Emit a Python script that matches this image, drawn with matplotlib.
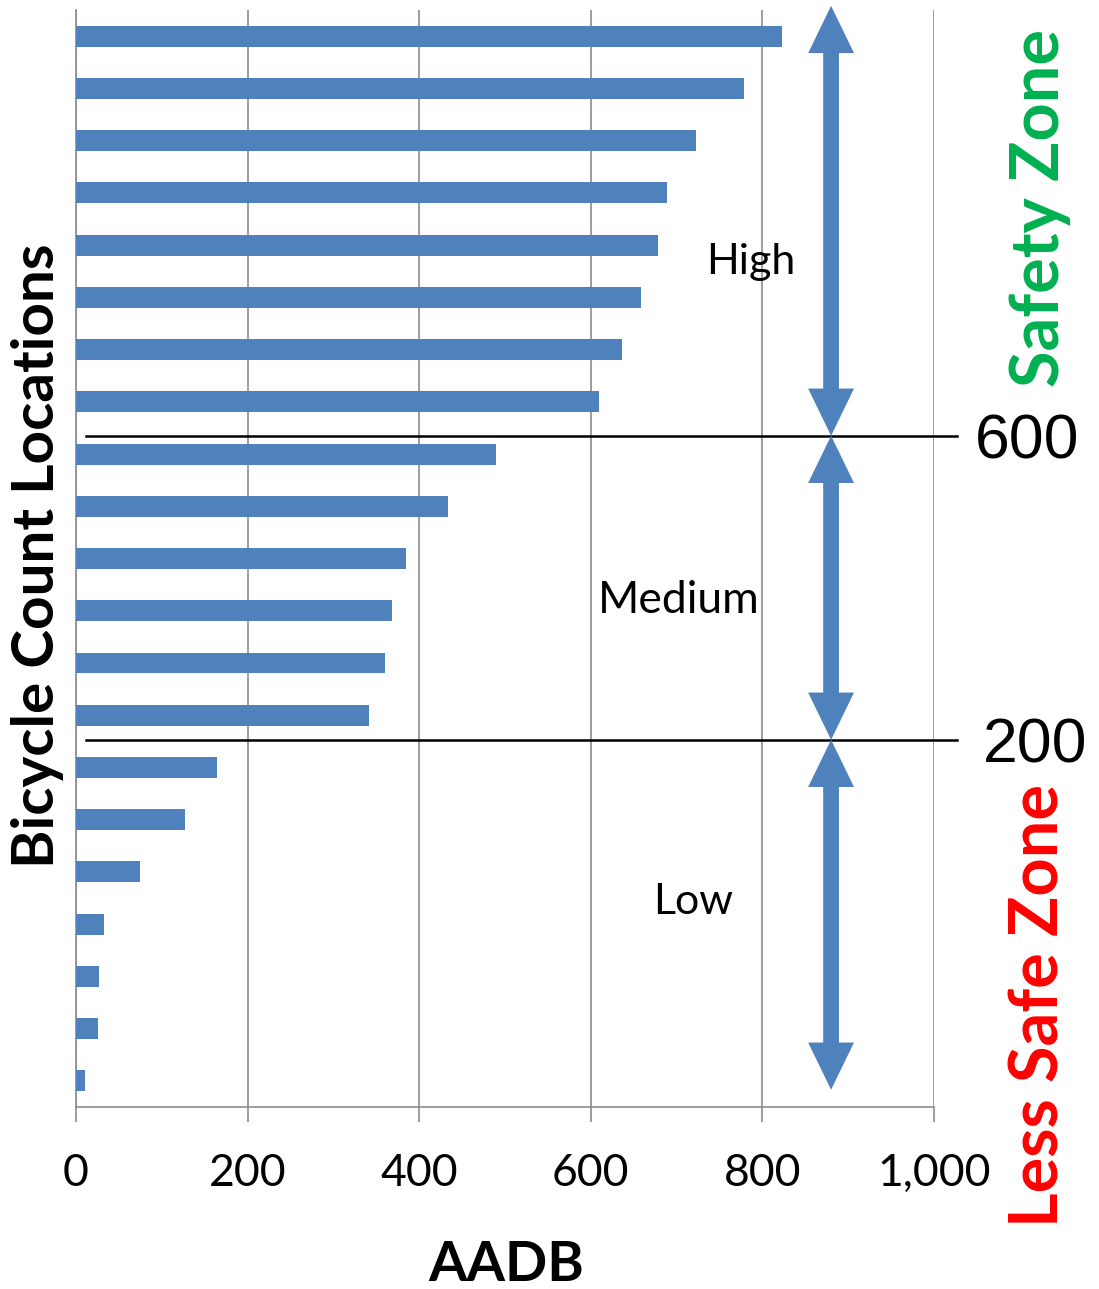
import matplotlib.pyplot as plt
from matplotlib.patches import FancyArrowPatch
import numpy as np

# AADB per count location, highest first
aadb = [823, 779, 722, 689, 678, 659, 636, 610, 490, 433,
        384, 368, 360, 341, 164, 127, 74, 32, 27, 25, 10]
xticks = [0, 200, 400, 600, 800, 1000]
xtick_labels = ['0', '200', '400', '600', '800', '1,000']

BLUE = '#4F81BD'
GRID = '#8C8C8C'
FONT = 'Lato'

fig = plt.figure(figsize=(10.99, 12.89), dpi=100)
ax = fig.add_axes([0.0692, 0.1412, 0.7807, 0.8510])

ypos = np.arange(len(aadb))
ax.barh(ypos, aadb, height=0.4, color=BLUE, zorder=3)
ax.set_ylim(len(aadb) - 0.5, -0.5)
ax.set_xlim(0, 1000)

ax.set_xticks(xticks)
ax.set_xticklabels(xtick_labels, fontsize=32, family=FONT)
ax.tick_params(axis='x', direction='out', length=11, width=1.2, color=GRID, pad=22)
ax.set_yticks([])
ax.grid(axis='x', color=GRID, lw=1.2, zorder=0)
for s in ['top', 'right']:
    ax.spines[s].set_visible(False)
for s in ['left', 'bottom']:
    ax.spines[s].set_color(GRID)
    ax.spines[s].set_linewidth(1.2)

# AADB thresholds between the groups
cut_high, cut_low = 7.65, 13.47
for yc, lab, xl in [(cut_high, '600', 1048), (cut_low, '200', 1057)]:
    ax.plot([12, 1027], [yc, yc], color='black', lw=1.8, clip_on=False, zorder=4)
    ax.text(xl, yc + 0.12, lab, fontsize=45, family='Liberation Sans', va='center', ha='left')

HEAD_LEN = 34  # points


def double_arrow(x, y0, y1):
    # two full-length single arrows in opposite directions; each tail stops
    # where the other arrow's head begins
    for a, b in ((y0, y1), (y1, y0)):
        ax.add_patch(FancyArrowPatch((x, a), (x, b),
                                     arrowstyle=f'simple,head_length={HEAD_LEN},head_width=33,tail_width=11',
                                     mutation_scale=1, color=BLUE, lw=0,
                                     shrinkA=HEAD_LEN - 2, shrinkB=0, clip_on=False, zorder=5))


arrow_x = 880
double_arrow(arrow_x, -0.58, cut_high)
double_arrow(arrow_x, cut_high, cut_low)
double_arrow(arrow_x, cut_low, 20.17)

ax.text(787, 4.32, 'High', fontsize=31, family=FONT, ha='center', va='center')
ax.text(702, 10.8, 'Medium', fontsize=32, family=FONT, ha='center', va='center')
ax.text(719, 16.58, 'Low', fontsize=31, family=FONT, ha='center', va='center')

fig.text(0.034, 0.569, 'Bicycle Count Locations', rotation=90, fontsize=42,
         fontweight='bold', family=FONT, ha='center', va='center')
fig.text(0.461, 0.019, 'AADB', fontsize=40, fontweight='bold', family=FONT,
         ha='center', va='center')
fig.text(0.946, 0.839, 'Safety Zone', rotation=90, fontsize=48, fontweight='bold',
         family=FONT, color='#00B050', ha='center', va='center')
fig.text(0.946, 0.220, 'Less Safe Zone', rotation=90, fontsize=48, fontweight='bold',
         family=FONT, color='#FF0000', ha='center', va='center')

fig.savefig('out.png', dpi=100)
